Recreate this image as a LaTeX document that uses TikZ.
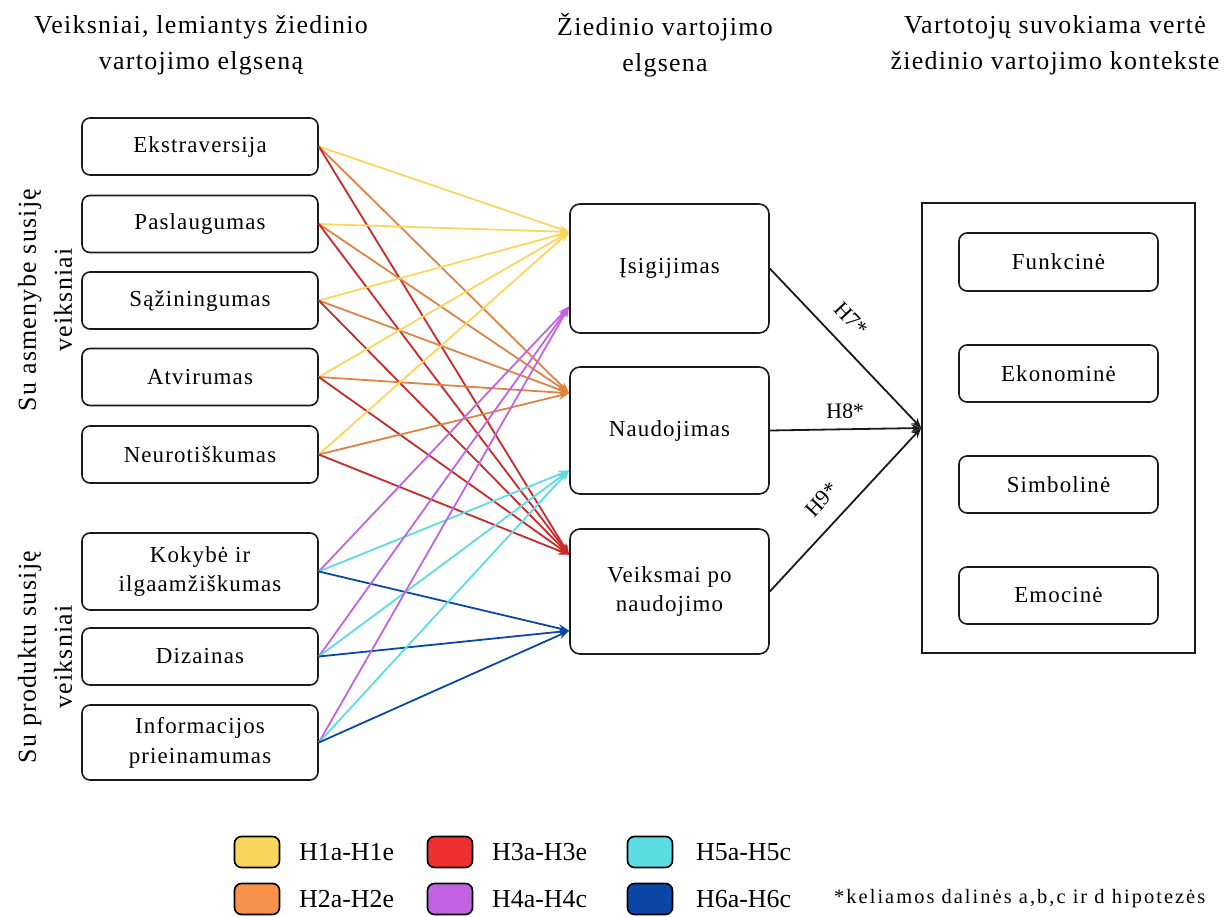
\documentclass[tikz,border=0pt]{standalone}
\usepackage{fontspec}
\setmainfont{Liberation Serif}
\newfontfamily\spaced{Liberation Serif}[LetterSpace=5]
\newfontfamily\wide{Liberation Serif}[LetterSpace=10]
\usetikzlibrary{arrows.meta,calc}

% hypothesis colours
\definecolor{cHa}{HTML}{FAD65C}% H1
\definecolor{cHb}{HTML}{F8924A}% H2
\definecolor{cHc}{HTML}{EE3030}% H3
\definecolor{cHd}{HTML}{C263E3}% H4
\definecolor{cHe}{HTML}{5CDCE3}% H5
\definecolor{cHf}{HTML}{0B47A8}% H6
\definecolor{edge}{HTML}{1A1A1A}

\tikzset{
  box/.style={draw=edge, line width=1.6bp, rounded corners=8bp, fill=white,
    align=center, inner sep=0pt, font=\spaced\fontsize{23}{30}\selectfont},
  leftbox/.style={box, minimum width=236bp},
  midbox/.style={box, rounded corners=10bp, minimum width=199bp},
  valbox/.style={box, minimum width=199bp, minimum height=57bp},
  head/.style={align=center, inner sep=0pt, font=\spaced\fontsize{26}{36}\selectfont},
  conn/.style={line width=1.8bp, -{Stealth[length=11bp,width=8bp]}},
  blk/.style={draw=edge, line width=1.8bp, -{Stealth[length=10bp,width=8bp]}},
  lab/.style={inner sep=2bp, font=\fontsize{22}{26}\selectfont},
  swatch/.style={draw=black, line width=1.6bp, rounded corners=7bp,
    minimum width=45bp, minimum height=31bp, inner sep=0pt},
  legtext/.style={anchor=west, inner sep=0pt, font=\fontsize{26}{30}\selectfont},
}

\begin{document}
\begin{tikzpicture}[x=1bp,y=-1bp]
\useasboundingbox (0,0) rectangle (1232,917);

% column headings
\node[head] (h1) at (201,45) {Veiksniai, lemiantys žiedinio\\vartojimo elgseną};
\node[head] (h2) at (665,45) {Žiedinio vartojimo\\elgsena};
\node[head] (h3) at (1055,45) {Vartotojų suvokiama vertė\\žiedinio vartojimo kontekste};

% group labels
\node[head, rotate=90] (g1) at (45,300) {Su asmenybe susiję\\veiksniai};
\node[head, rotate=90] (g2) at (45,657) {Su produktu susiję\\veiksniai};

% antecedent factors
\node[leftbox, minimum height=57bp] (ekst) at (200,146.5) {Ekstraversija};
\node[leftbox, minimum height=57bp] (pasl) at (200,224) {Paslaugumas};
\node[leftbox, minimum height=57bp] (sazi) at (200,300.5) {Sąžiningumas};
\node[leftbox, minimum height=57bp] (atvi) at (200,377) {Atvirumas};
\node[leftbox, minimum height=57bp] (neur) at (200,454.5) {Neurotiškumas};
\node[leftbox, minimum height=77bp] (koky) at (200,571.5) {Kokybė ir\\ilgaamžiškumas};
\node[leftbox, minimum height=57bp] (diza) at (200,656.5) {Dizainas};
\node[leftbox, minimum height=75bp] (info) at (200,742.5) {Informacijos\\prieinamumas};

% consumption behaviour
\node[midbox, minimum height=129bp] (isig) at (669.5,268.5) {Įsigijimas};
\node[midbox, minimum height=127bp] (naud) at (669.5,430.5) {Naudojimas};
\node[midbox, minimum height=125bp] (veik) at (669.5,591.5) {Veiksmai po\\naudojimo};

% perceived value
\node[draw=edge, line width=1.6bp, minimum width=273bp, minimum height=450bp, inner sep=0pt] (val) at (1058.5,428) {};
\node[valbox, minimum height=58bp] (funk) at (1058.5,262) {Funkcinė};
\node[valbox] (ekon) at (1058.5,373.5) {Ekonominė};
\node[valbox] (simb) at (1058.5,484.5) {Simbolinė};
\node[valbox] (emoc) at (1058.5,595.5) {Emocinė};

% arrival points on the behaviour boxes
\coordinate (isigA) at ($(isig.north west)!0.22!(isig.south west)$);
\coordinate (isigB) at ($(isig.north west)!0.79!(isig.south west)$);
\coordinate (naudA) at ($(naud.north west)!0.21!(naud.south west)$);
\coordinate (naudB) at ($(naud.north west)!0.81!(naud.south west)$);
\coordinate (veikA) at ($(veik.north west)!0.21!(veik.south west)$);
\coordinate (veikB) at ($(veik.north west)!0.81!(veik.south west)$);

% personality factors: H1 (yellow), H2 (orange), H3 (red)
\foreach \s in {ekst,pasl,sazi,atvi,neur}{
  \draw[conn, cHa] (\s.east) -- (isigA);
  \draw[conn, cHb!90!black] (\s.east) -- (naudA);
  \draw[conn, cHc!85!black] (\s.east) -- (veikA);
}
% product factors: H4 (purple), H5 (cyan), H6 (blue)
\foreach \s in {koky,diza,info}{
  \draw[conn, cHd] (\s.east) -- (isigB);
  \draw[conn, cHe] (\s.east) -- (naudB);
  \draw[conn, cHf] (\s.east) -- (veikB);
}

% behaviour -> perceived value
\draw[blk] (isig.east) -- node[lab, sloped, above=14bp, pos=0.42] {H7*} (val.west);
\draw[blk] (naud.east) -- node[lab, sloped, above=8bp, pos=0.5] {H8*} (val.west);
\draw[blk] (veik.east) -- node[lab, sloped, above=14bp, pos=0.46] {H9*} (val.west);

% legend
\node[swatch, fill=cHa] (s1) at (257,852) {};
\node[legtext] (t1) at (299,852) {H1a-H1e};
\node[swatch, fill=cHc] (s3) at (450,852) {};
\node[legtext] (t3) at (492,852) {H3a-H3e};
\node[swatch, fill=cHe] (s5) at (650,852) {};
\node[legtext] (t5) at (696,852) {H5a-H5c};
\node[swatch, fill=cHb] (s2) at (257,899) {};
\node[legtext] (t2) at (299,899) {H2a-H2e};
\node[swatch, fill=cHd] (s4) at (450,899) {};
\node[legtext] (t4) at (492,899) {H4a-H4c};
\node[swatch, fill=cHf] (s6) at (650,899) {};
\node[legtext] (t6) at (696,899) {H6a-H6c};
\node[anchor=west, inner sep=0pt, font=\wide\fontsize{20.5}{24}\selectfont] (note) at (834,899) {*keliamos dalinės a,b,c ir d hipotezės};
\end{tikzpicture}
\end{document}
